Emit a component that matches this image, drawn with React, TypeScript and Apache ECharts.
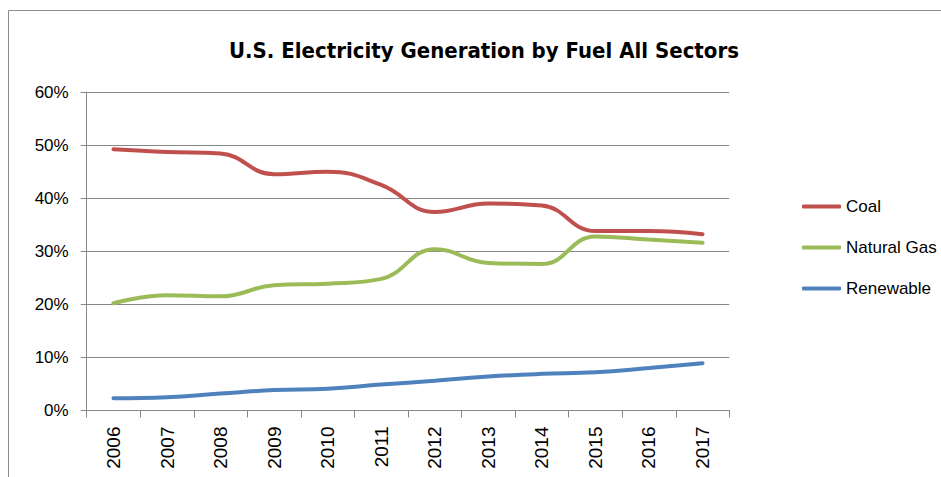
import React, { useEffect, useRef } from "react";
import * as echarts from "echarts";

const years = ["2006", "2007", "2008", "2009", "2010", "2011", "2012", "2013", "2014", "2015", "2016", "2017"];
const coal = [49.2, 48.7, 48.4, 44.5, 45.0, 42.5, 37.4, 39.0, 38.6, 33.8, 33.8, 33.2];
const naturalGas = [20.2, 21.7, 21.5, 23.6, 23.9, 24.8, 30.4, 27.8, 27.6, 32.8, 32.2, 31.6];
const renewable = [2.3, 2.5, 3.2, 3.85, 4.1, 4.9, 5.6, 6.4, 6.9, 7.2, 8.0, 8.9];
const yTicks = { min: 0, max: 60, interval: 10 };

const GRAY = "#878787";
const NARROW = "'DejaVu Sans Condensed', 'Liberation Sans', Arial, sans-serif";
const SANS = "'Liberation Sans', Arial, sans-serif";

export default function App() {
  const ref = useRef<HTMLDivElement>(null);
  useEffect(() => {
    if (!ref.current) return;
    const chart = echarts.init(ref.current, null, { renderer: "svg" });
    const mk = (name: string, data: number[], color: string) => ({
      name,
      type: "line",
      data,
      smooth: 0.45,
      symbol: "none",
      showSymbol: false,
      lineStyle: { color, width: 4, cap: "round" },
      itemStyle: { color },
    });
    chart.setOption({
      animation: false,
      backgroundColor: "#ffffff",
      title: {
        text: "U.S. Electricity Generation by Fuel All Sectors",
        left: 479,
        textAlign: "center",
        top: 34,
        textStyle: {
          fontFamily: NARROW,
          fontWeight: "bold",
          fontSize: 22,
          color: "#000",
        },
      },
      graphic: [
        {
          type: "rect",
          shape: { x: 8.5, y: 10.5, width: 1200, height: 1200 },
          style: { fill: "none", stroke: "#8c8c8c", lineWidth: 1 },
          silent: true,
        },
      ],
      legend: {
        orient: "vertical",
        left: 797,
        top: 193,
        itemWidth: 39,
        itemHeight: 4,
        itemGap: 24,
        icon: "roundRect",
        data: ["Coal", "Natural Gas", "Renewable"],
        textStyle: {
          fontFamily: SANS,
          fontSize: 17,
          color: "#000",
        },
      },
      grid: { left: 86.7, right: 211.7, top: 92, bottom: 66.5 },
      xAxis: {
        type: "category",
        data: years,
        boundaryGap: true,
        axisLine: { show: true, lineStyle: { color: GRAY, width: 1 } },
        axisTick: { show: true, length: 7, lineStyle: { color: GRAY } },
        axisLabel: {
          rotate: 90,
          margin: 16,
          interval: 0,
          fontFamily: SANS,
          fontSize: 19,
          color: "#000",
        },
        splitLine: { show: false },
      },
      yAxis: {
        type: "value",
        min: yTicks.min,
        max: yTicks.max,
        interval: yTicks.interval,
        axisLine: { show: true, lineStyle: { color: GRAY, width: 1 } },
        axisTick: { show: true, length: 6, lineStyle: { color: GRAY } },
        axisLabel: {
          formatter: "{value}%",
          margin: 18,
          fontFamily: SANS,
          fontSize: 17,
          color: "#000",
        },
        splitLine: { show: true, lineStyle: { color: GRAY, width: 1 } },
      },
      series: [
        mk("Coal", coal, "#C0504D"),
        mk("Natural Gas", naturalGas, "#9BBB59"),
        mk("Renewable", renewable, "#4F81BD"),
      ],
    });
    return () => chart.dispose();
  }, []);
  return (
    <div
      ref={ref}
      style={{ position: "absolute", left: 0, top: 0, width: 941, height: 477 }}
    />
  );
}
